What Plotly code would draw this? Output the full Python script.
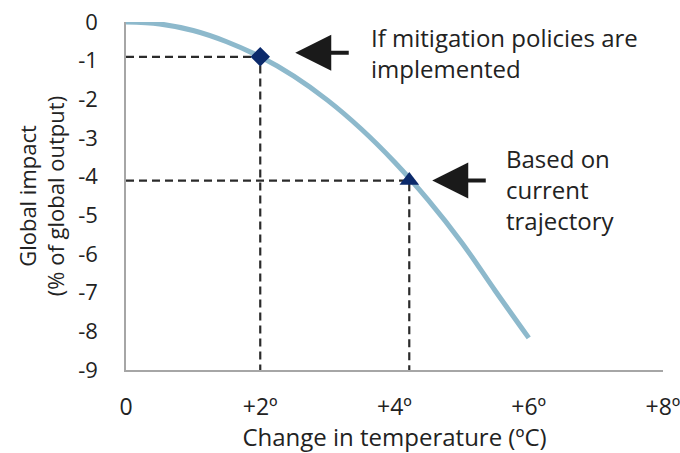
import plotly.graph_objects as go

# Curve: temperature change (°C) vs global impact (% of global output)
temp_change = [0, 0.5, 1, 1.5, 2, 2.5, 3, 3.5, 4, 4.5, 5, 5.5, 6]
impact = [0, -0.05, -0.22, -0.51, -0.9, -1.4, -2.02, -2.76, -3.62, -4.6, -5.7, -6.95, -8.17]

# Highlighted scenarios
mitig_x = [2.0]
mitig_y = [-0.9]
current_x = [4.22]
current_y = [-4.1]

x_tickvals = [0, 2, 4, 6, 8]
x_ticktext = ["0", "+2º", "+4º", "+6º", "+8º"]
y_tickvals = [0, -1, -2, -3, -4, -5, -6, -7, -8, -9]
y_ticktext = ["0", "-1", "-2", "-3", "-4", "-5", "-6", "-7", "-8", "-9"]

FONT = "Open Sans"
TXT = "#222222"
CURVE = "#8db9cc"
NAVY = "#0b2a6b"
DASH = "#2b2b2b"

fig = go.Figure()

# dashed guide lines for each scenario (from y axis to point, then down to x axis)
for px, py in [(mitig_x[0], mitig_y[0]), (current_x[0], current_y[0])]:
    fig.add_trace(go.Scatter(
        x=[0, px, px], y=[py, py, -9], mode="lines",
        line=dict(color=DASH, width=2.2, dash="8px,5px"),
        hoverinfo="skip", showlegend=False))

fig.add_trace(go.Scatter(
    x=temp_change, y=impact, mode="lines",
    line=dict(color=CURVE, width=5, shape="spline", smoothing=1.0),
    showlegend=False))

fig.add_trace(go.Scatter(
    x=mitig_x, y=mitig_y, mode="markers",
    marker=dict(symbol="diamond", size=15, color=NAVY), showlegend=False))
fig.add_trace(go.Scatter(
    x=current_x, y=current_y, mode="markers",
    marker=dict(symbol="triangle-up", size=17, color=NAVY), showlegend=False))

# arrows (tip placed a little right of each marker, pointing left)
for (px, py), (dx, dy) in [((mitig_x[0], mitig_y[0]), (35, 4)),
                           ((current_x[0], current_y[0]), (23, 0))]:
    fig.add_annotation(
        x=px, y=py, xref="x", yref="y",
        ax=55, ay=0, axref="pixel", ayref="pixel",
        xshift=dx, yshift=dy,
        text="", showarrow=True, arrowhead=2, arrowsize=1.8,
        arrowwidth=4, arrowcolor="#1a1a1a", standoff=0)

fig.add_annotation(
    x=mitig_x[0], y=mitig_y[0], xref="x", yref="y",
    xshift=109, yshift=38,
    text="If mitigation policies are<br>implemented",
    showarrow=False, xanchor="left", yanchor="top", align="left",
    font=dict(family=FONT, size=24, color=TXT))
fig.add_annotation(
    x=current_x[0], y=current_y[0], xref="x", yref="y",
    xshift=95, yshift=41,
    text="Based on<br>current<br>trajectory",
    showarrow=False, xanchor="left", yanchor="top", align="left",
    font=dict(family=FONT, size=24, color=TXT))

fig.update_layout(
    width=680, height=453,
    margin=dict(l=126, r=17, t=22, b=83),
    paper_bgcolor="white", plot_bgcolor="white",
    font=dict(family=FONT, size=22, color=TXT),
    xaxis=dict(
        range=[0, 8], tickvals=x_tickvals, ticktext=x_ticktext,
        automargin=False, ticklabeloverflow="allow",
        showgrid=False, zeroline=False, showline=True, linecolor="#a6a6a6",
        linewidth=1.5, ticks="", ticklabelstandoff=16,
        tickfont=dict(family=FONT, size=23, color=TXT),
        title=dict(text="Change in temperature (ºC)", standoff=2,
                   font=dict(family=FONT, size=24, color=TXT))),
    yaxis=dict(
        range=[-9, 0], tickvals=y_tickvals, ticktext=y_ticktext,
        automargin=False, ticklabeloverflow="allow",
        showgrid=False, zeroline=False, showline=True, linecolor="#a6a6a6",
        linewidth=1.5, ticks="", ticklabelstandoff=22,
        tickfont=dict(family=FONT, size=22, color=TXT),
        title=dict(text="Global impact<br>(% of global output)", standoff=7,
                   font=dict(family=FONT, size=22, color=TXT))),
)

# remove the default page margin so the figure fills the 680x453 window exactly
fig.write_html("out.html", config={"displayModeBar": False},
               post_script="document.body.style.margin='0';")
